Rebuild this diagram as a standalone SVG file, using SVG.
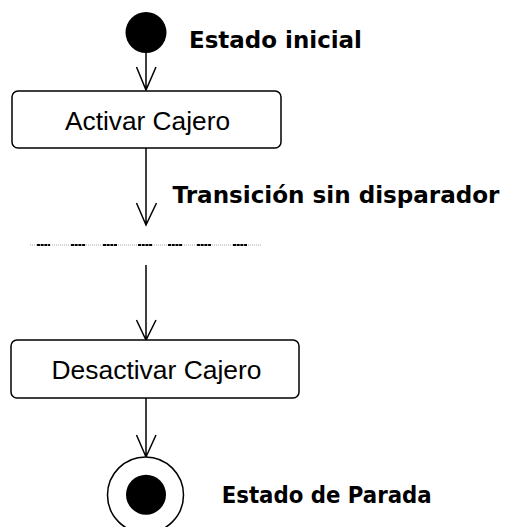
<svg xmlns="http://www.w3.org/2000/svg" width="505" height="527" viewBox="0 0 505 527">
<style>
.box{fill:#fff;stroke:#000;stroke-width:1.5}
.lbl{font-family:"Liberation Sans",Arial,sans-serif;font-size:25px;fill:#000;text-anchor:middle}
.note{font-family:"DejaVu Sans","Noto Sans",sans-serif;font-weight:bold;font-size:23px;fill:#000}
.edge{stroke:#000;stroke-width:1.5;fill:none}
</style>
<rect width="505" height="527" fill="#fff"/>
<g id="connectors">
<path class="edge" d="M146 52V90M136.5 67L146 90L156 67"/>
<path class="edge" d="M146 148V225M136.5 203L146 225L156.5 203"/>
<path class="edge" d="M146 265V340M136.5 320L146 340L156 320"/>
<path class="edge" d="M146 398V457M136.5 435L146 457L156 435"/>
</g>
<g id="initial">
<circle cx="146" cy="32.5" r="20.5" fill="#000"/>
<text class="note" x="189" y="47.5" textLength="173" lengthAdjust="spacingAndGlyphs">Estado inicial</text>
</g>
<g id="activar">
<rect class="box" x="12" y="91" width="269" height="57" rx="6"/>
<text class="lbl" x="147.5" y="129.5" textLength="165" lengthAdjust="spacingAndGlyphs">Activar Cajero</text>
</g>
<g id="transicion-label">
<text class="note" x="172.5" y="202.8" textLength="327" lengthAdjust="spacingAndGlyphs">Transición sin disparador</text>
</g>
<g id="separator">
<line x1="30" y1="245" x2="262" y2="245" stroke="#aaa" stroke-width="1" stroke-dasharray="1 1"/>
<path d="M37 245H50M71 245H85.5M103 245H117M138 245H152M168 245H182M197 245H211M233 245H247" stroke="#000" stroke-width="2" stroke-dasharray="3 0.7"/>
</g>
<g id="desactivar">
<rect class="box" x="11" y="340" width="288" height="58" rx="6"/>
<text class="lbl" x="156.5" y="379" textLength="210" lengthAdjust="spacingAndGlyphs">Desactivar Cajero</text>
</g>
<g id="final">
<circle cx="145.5" cy="495" r="38" fill="#fff" stroke="#000" stroke-width="1.5"/>
<circle cx="146" cy="494.7" r="20" fill="#000"/>
<text class="note" x="221.7" y="503.3" textLength="210" lengthAdjust="spacingAndGlyphs">Estado de Parada</text>
</g>
</svg>
